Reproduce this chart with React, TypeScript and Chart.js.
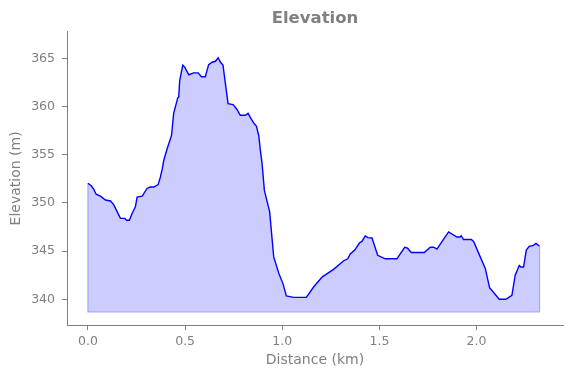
import React, { useEffect, useRef } from "react";
import { Chart, registerables } from "chart.js";

Chart.register(...registerables);

const distanceKm = [
  0.0, 0.018, 0.03, 0.042, 0.064, 0.09, 0.116, 0.133, 0.15, 0.167, 0.19, 0.198, 0.213, 0.227, 0.244,
  0.253, 0.279, 0.304, 0.32, 0.339, 0.361, 0.373, 0.383, 0.39, 0.407, 0.43, 0.441, 0.462, 0.467, 0.472,
  0.488, 0.498, 0.519, 0.544, 0.567, 0.584, 0.604, 0.621, 0.639, 0.656, 0.67, 0.682, 0.695, 0.704, 0.721,
  0.747, 0.767, 0.784, 0.81, 0.824, 0.836, 0.853, 0.867, 0.879, 0.887, 0.896, 0.908, 0.935, 0.956, 0.982,
  1.004, 1.021, 1.059, 1.124, 1.162, 1.205, 1.264, 1.316, 1.337, 1.35, 1.373, 1.397, 1.41, 1.427, 1.441,
  1.462, 1.491, 1.53, 1.59, 1.63, 1.645, 1.664, 1.731, 1.762, 1.779, 1.796, 1.856, 1.899, 1.916, 1.921,
  1.933, 1.973, 1.985, 2.019, 2.045, 2.067, 2.117, 2.151, 2.182, 2.199, 2.22, 2.228, 2.242, 2.256, 2.271,
  2.293, 2.306, 2.324,
];

const elevationM = [
  352.05, 351.75, 351.4, 350.9, 350.7, 350.3, 350.2, 349.8, 349.1, 348.4, 348.4, 348.2, 348.2, 348.9, 349.6,
  350.6, 350.7, 351.5, 351.65, 351.65, 351.9, 352.7, 353.6, 354.4, 355.6, 357.0, 359.3, 360.9, 361.0, 362.7,
  364.3, 364.1, 363.3, 363.5, 363.5, 363.1, 363.1, 364.35, 364.6, 364.7, 365.07, 364.6, 364.3, 362.9, 360.3,
  360.2, 359.7, 359.1, 359.1, 359.3, 358.85, 358.3, 357.95, 357.0, 355.5, 354.1, 351.3, 349.1, 344.4, 342.7,
  341.6, 340.35, 340.2, 340.2, 341.3, 342.3, 343.1, 344.0, 344.2, 344.7, 345.1, 345.84, 346.0, 346.57, 346.4,
  346.36, 344.56, 344.2, 344.2, 345.4, 345.3, 344.85, 344.85, 345.4, 345.4, 345.2, 347.0, 346.46, 346.46, 346.6,
  346.2, 346.2, 346.0, 344.4, 343.2, 341.2, 340.0, 340.0, 340.4, 342.5, 343.5, 343.35, 343.35, 345.1, 345.5,
  345.6, 345.8, 345.5,
];

const fillBase = 338.7;
const xTicks = [0, 0.5, 1.0, 1.5, 2.0];
const yTicks = [340, 345, 350, 355, 360, 365];

export default function App() {
  const ref = useRef<HTMLCanvasElement>(null);

  useEffect(() => {
    document.body.style.margin = "0";
    const canvas = ref.current;
    if (!canvas) return;
    const n = distanceKm.length;
    const line = distanceKm.map((x, i) => ({ x, y: elevationM[i] }));
    const edge = [
      { x: distanceKm[n - 1], y: elevationM[n - 1] },
      { x: distanceKm[n - 1], y: fillBase },
      { x: distanceKm[0], y: fillBase },
      { x: distanceKm[0], y: elevationM[0] },
    ];
    const gray = "#808080";
    Chart.defaults.font.family = "'DejaVu Sans', sans-serif";

    const chart = new Chart(canvas, {
      type: "line",
      data: {
        datasets: [
          {
            data: line,
            borderColor: "#0000ff",
            borderWidth: 1.4,
            backgroundColor: "#ccccff",
            fill: { value: fillBase },
            pointRadius: 0,
            tension: 0,
          },
          {
            data: edge,
            borderColor: "#a9a9ff",
            borderWidth: 1.3,
            fill: false,
            pointRadius: 0,
            tension: 0,
          },
        ],
      },
      options: {
        responsive: false,
        animation: false,
        devicePixelRatio: 1,
        layout: { padding: { left: 0, right: 8, top: 0, bottom: 0 } },
        plugins: {
          legend: { display: false },
          tooltip: { enabled: false },
          filler: { drawTime: "beforeDatasetsDraw" },
          title: {
            display: true,
            text: "Elevation",
            color: gray,
            fullSize: false,
            font: { size: 16.5, weight: "bold" },
            padding: { top: 9, bottom: 3 },
          },
        } as any,
        scales: {
          x: {
            type: "linear",
            min: -0.108,
            max: 2.445,
            afterBuildTicks: (s: any) => {
              s.ticks = xTicks.map((v) => ({ value: v }));
            },
            afterFit: (s: any) => {
              s.height = 53;
            },
            ticks: {
              color: gray,
              font: { size: 12.5 },
              padding: 4,
              autoSkip: false,
              maxRotation: 0,
              callback: (v: any) => Number(v).toFixed(1),
            },
            grid: { display: true, drawOnChartArea: false, drawTicks: true, tickLength: 5, color: gray },
            border: { display: true, color: gray },
            title: {
              display: true,
              text: "Distance (km)",
              color: gray,
              font: { size: 14 },
              padding: { top: 0, bottom: 9 },
            },
          },
          y: {
            type: "linear",
            min: 337.33,
            max: 367.76,
            afterBuildTicks: (s: any) => {
              s.ticks = yTicks.map((v) => ({ value: v }));
            },
            afterFit: (s: any) => {
              s.width = 67;
            },
            ticks: {
              color: gray,
              font: { size: 12.5 },
              padding: 7,
              autoSkip: false,
              callback: (v: any) => String(v),
            },
            grid: { display: true, drawOnChartArea: false, drawTicks: true, tickLength: 5, color: gray },
            border: { display: true, color: gray },
            title: {
              display: true,
              text: "Elevation (m)",
              color: gray,
              font: { size: 14 },
              padding: { top: 8.3, bottom: 0 },
            },
          },
        },
      },
    });
    return () => chart.destroy();
  }, []);

  return <canvas ref={ref} width={571} height={378} style={{ display: "block" }} />;
}
